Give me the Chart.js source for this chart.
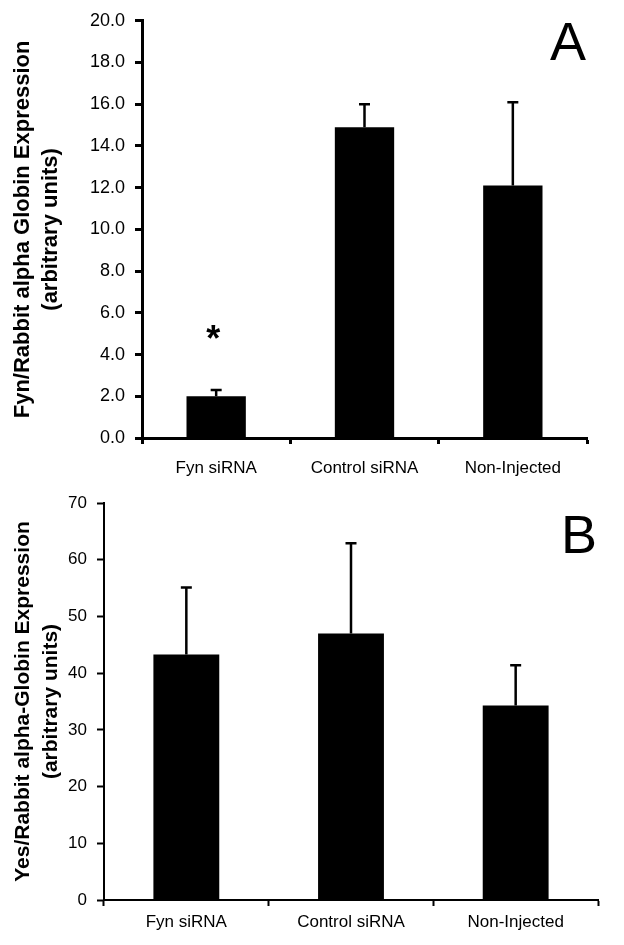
<!DOCTYPE html>
<html>
<head>
<meta charset="utf-8">
<script src="https://cdn.jsdelivr.net/npm/chart.js@4"></script>
<style>
  html, body { margin: 0; padding: 0; background: #fff; }
  .panel { position: absolute; left: 0; width: 624px; }
  #boxA { top: 0; height: 480px; }
  #boxB { top: 480px; height: 465px; }
</style>
</head>
<body>
<div class="panel" id="boxA"><canvas id="chartA"></canvas></div>
<div class="panel" id="boxB"><canvas id="chartB"></canvas></div>
<script>
/* ----------------------------------------------------------
   DATA
---------------------------------------------------------- */
const categories = ["Fyn siRNA", "Control siRNA", "Non-Injected"];

// Panel A: Fyn / Rabbit alpha Globin
const fynValues = [2.0, 14.9, 12.1];
const fynErrTop = [2.3, 16.0, 16.1];
const fynStars = ["*", "", ""];
const fynStarAt = [5.0, null, null];
const fynTicks = [0, 2, 4, 6, 8, 10, 12, 14, 16, 18, 20];

// Panel B: Yes / Rabbit alpha-Globin
const yesValues = [43.3, 47.0, 34.3];
const yesErrTop = [55.1, 62.9, 41.4];
const yesTicks = [0, 10, 20, 30, 40, 50, 60, 70];

/* ----------------------------------------------------------
   PLUGINS: error bars, asterisk, panel letter
---------------------------------------------------------- */
const errorBars = {
  id: "errorBars",
  afterDatasetsDraw(chart, args, opts) {
    const { ctx, scales: { x, y } } = chart;
    ctx.save();
    ctx.strokeStyle = "#000";
    ctx.lineWidth = opts.width;
    opts.tops.forEach((top, i) => {
      const px = x.getPixelForValue(i);
      const y0 = y.getPixelForValue(opts.values[i]);
      const y1 = y.getPixelForValue(top);
      ctx.beginPath();
      ctx.moveTo(px, y0);
      ctx.lineTo(px, y1);
      ctx.moveTo(px - opts.cap, y1);
      ctx.lineTo(px + opts.cap, y1);
      ctx.stroke();
    });
    ctx.restore();
  }
};

const marks = {
  id: "marks",
  afterDraw(chart, args, opts) {
    const { ctx, scales: { x, y } } = chart;
    ctx.save();
    ctx.fillStyle = "#000";
    ctx.textAlign = "center";
    ctx.textBaseline = "middle";
    (opts.stars || []).forEach((s, i) => {
      if (!s) return;
      ctx.font = "bold 36px 'Liberation Sans', Arial, sans-serif";
      ctx.fillText(s, x.getPixelForValue(i) - 3, y.getPixelForValue(opts.starAt[i]) + 7);
    });
    ctx.font = "54px 'Liberation Sans', Arial, sans-serif";
    ctx.fillText(opts.letter, chart.chartArea.right - 19, chart.chartArea.top + opts.letterDy);
    ctx.restore();
  }
};

/* ----------------------------------------------------------
   BUILD ONE PANEL
---------------------------------------------------------- */
function makePanel(canvas, cfg) {
  return new Chart(canvas, {
    type: "bar",
    data: {
      labels: categories,
      datasets: [{
        data: cfg.values,
        backgroundColor: "#000",
        borderWidth: 0,
        barPercentage: 0.4,
        categoryPercentage: 1.0
      }]
    },
    options: {
      responsive: true,
      maintainAspectRatio: false,
      animation: false,
      layout: { padding: { top: cfg.top, right: cfg.right, left: 0, bottom: 0 } },
      plugins: {
        legend: { display: false },
        tooltip: { enabled: false },
        errorBars: { values: cfg.values, tops: cfg.errTop, width: 2.5, cap: 5.5 },
        marks: { stars: cfg.stars, starAt: cfg.starAt, letter: cfg.letter, letterDy: cfg.letterDy }
      },
      scales: {
        x: {
          offset: true,
          border: { color: "#000", width: cfg.axisW },
          grid: {
            offset: true, drawOnChartArea: false, drawTicks: true,
            tickLength: 6, tickColor: "#000", tickWidth: cfg.axisW
          },
          ticks: {
            color: "#000", padding: cfg.xPad, maxRotation: 0,
            font: { family: "'Liberation Sans', Arial, sans-serif", size: 17 }
          },
          afterFit(s) { s.height = cfg.xHeight; }
        },
        y: {
          min: 0,
          max: cfg.ticks[cfg.ticks.length - 1],
          afterBuildTicks(s) { s.ticks = cfg.ticks.map(v => ({ value: v })); },
          border: { color: "#000", width: cfg.axisW },
          grid: {
            drawOnChartArea: false, drawTicks: true,
            tickLength: 7, tickColor: "#000", tickWidth: cfg.axisW
          },
          ticks: {
            color: "#000", padding: cfg.yPad,
            font: { family: "'Liberation Sans', Arial, sans-serif", size: cfg.tickSize },
            callback: cfg.fmt
          },
          title: {
            display: true,
            text: cfg.title,
            color: "#000",
            padding: { top: 9, bottom: 0 },
            font: {
              family: "'Liberation Sans', Arial, sans-serif",
              size: cfg.titleSize, weight: "bold", lineHeight: 28 / cfg.titleSize
            }
          },
          afterFit(s) { s.width = cfg.yWidth; }
        }
      }
    },
    plugins: [errorBars, marks]
  });
}

makePanel(document.getElementById("chartA"), {
  values: fynValues, errTop: fynErrTop, stars: fynStars, starAt: fynStarAt,
  ticks: fynTicks, fmt: v => Number(v).toFixed(1),
  title: ["Fyn/Rabbit alpha Globin Expression", "(arbitrary units)"],
  letter: "A", letterDy: 24,
  top: 16, right: 37, yWidth: 142, xHeight: 42, xPad: 14, yPad: 10,
  tickSize: 18, axisW: 3, titleSize: 22
});

makePanel(document.getElementById("chartB"), {
  values: yesValues, errTop: yesErrTop, stars: [], starAt: [],
  ticks: yesTicks, fmt: v => String(v),
  title: ["Yes/Rabbit alpha-Globin Expression", "(arbitrary units)"],
  letter: "B", letterDy: 35,
  top: 23, right: 26, yWidth: 104, xHeight: 45, xPad: 6, yPad: 10,
  tickSize: 17, axisW: 2, titleSize: 21
});
</script>
</body>
</html>
